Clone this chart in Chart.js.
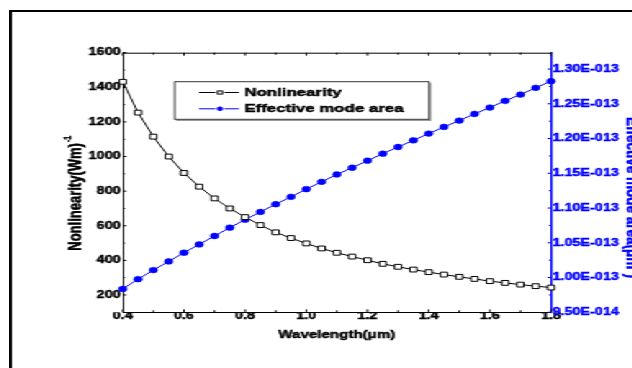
<!DOCTYPE html>
<html>
<head>
<meta charset="utf-8">
<title>Nonlinearity and effective mode area</title>
<script src="https://cdn.jsdelivr.net/npm/chart.js@4.4.1/dist/chart.umd.min.js"></script>
<style>
  html, body { margin: 0; padding: 0; background: #fff; overflow: hidden; width: 632px; height: 368px; }
  /* the original figure is stretched sideways, so the whole frame is too */
  #frame {
    position: absolute;
    left: 9px;
    top: 10px;
    width: 460px;
    height: 400px;
    border: 2px solid #000;
    background: #fff;
    transform: scaleX(1.44);
    transform-origin: 0 0;
  }
  #chart { display: block; }
</style>
</head>
<body>
<div id="frame"><canvas id="chart" width="460" height="400"></canvas></div>
<script>
// Data
const wavelength = [0.40, 0.45, 0.50, 0.55, 0.60, 0.65, 0.70, 0.75, 0.80, 0.85,
  0.90, 0.95, 1.00, 1.05, 1.10, 1.15, 1.20, 1.25, 1.30, 1.35,
  1.40, 1.45, 1.50, 1.55, 1.60, 1.65, 1.70, 1.75, 1.80];
const nonlinearity = [1432, 1254, 1115, 1000, 905, 826, 758, 700, 650, 604,
  562, 529, 498, 469, 444, 422, 401, 380, 363, 347,
  332, 318, 305, 293, 280, 270, 260, 251, 243];
const modeArea = [9.837e-14, 9.977e-14, 1.0107e-13, 1.0232e-13, 1.0357e-13, 1.0477e-13, 1.0598e-13, 1.0718e-13, 1.0833e-13, 1.0944e-13,
  1.1055e-13, 1.1161e-13, 1.1272e-13, 1.1377e-13, 1.1483e-13, 1.1580e-13, 1.1681e-13, 1.1782e-13, 1.1878e-13, 1.1974e-13,
  1.2071e-13, 1.2167e-13, 1.2258e-13, 1.2354e-13, 1.2446e-13, 1.2542e-13, 1.2633e-13, 1.2730e-13, 1.2826e-13];

// Tick values
const xTicks = [0.4, 0.6, 0.8, 1.0, 1.2, 1.4, 1.6, 1.8];
const leftTicks = [200, 400, 600, 800, 1000, 1200, 1400, 1600];
const rightTicks = [9.5e-14, 1.0e-13, 1.05e-13, 1.1e-13, 1.15e-13, 1.2e-13, 1.25e-13, 1.3e-13];

const FONT = "'Liberation Sans', Arial, sans-serif";
const BLUE = "#0000ff";
const TEXT_STROKE = 0.45; // the scanned original has heavy type
const TICK_SIZE = 10;

// Plot box inside the canvas (before the sideways stretch)
const plotLeft = 77;
const plotRight = 374.4;
const plotTop = 40.7;
const plotBottom = 300.3;
const canvasW = 460;
const canvasH = 400;

// 1.30E-013 style labels
function sciLabel(v) {
  const exp = Math.floor(Math.log10(v) + 1e-9);
  const mant = v / Math.pow(10, exp);
  return mant.toFixed(2) + "E-" + String(-exp).padStart(3, "0");
}

function midpoints(arr) {
  return arr.slice(1).map((v, i) => (v + arr[i]) / 2);
}

// fill + thin stroke so the type looks as heavy as the original
function heavyText(ctx, text, x, y, color) {
  ctx.fillStyle = color;
  ctx.strokeStyle = color;
  ctx.lineWidth = TEXT_STROKE;
  ctx.fillText(text, x, y);
  ctx.strokeText(text, x, y);
}

// Ticks, axis titles and legend box drawn on top of the chart
const decorPlugin = {
  id: "decor",
  afterDraw(chart) {
    const { ctx, chartArea: area, scales } = chart;
    const xs = scales.x;
    const yl = scales.y;
    const yr = scales.y1;
    ctx.save();

    // top frame line
    ctx.strokeStyle = "#000";
    ctx.lineWidth = 1;
    ctx.beginPath();
    ctx.moveTo(area.left, area.top + 0.5);
    ctx.lineTo(area.right, area.top + 0.5);
    ctx.stroke();

    // inward ticks
    ctx.beginPath();
    xTicks.forEach((v) => {
      const px = xs.getPixelForValue(v);
      ctx.moveTo(px, area.bottom); ctx.lineTo(px, area.bottom - 3);
      ctx.moveTo(px, area.top); ctx.lineTo(px, area.top + 3);
    });
    midpoints(xTicks).forEach((v) => {
      const px = xs.getPixelForValue(v);
      ctx.moveTo(px, area.bottom); ctx.lineTo(px, area.bottom - 2);
      ctx.moveTo(px, area.top); ctx.lineTo(px, area.top + 2);
    });
    leftTicks.forEach((v) => {
      const py = yl.getPixelForValue(v);
      ctx.moveTo(area.left, py); ctx.lineTo(area.left + 2.5, py);
    });
    midpoints(leftTicks).forEach((v) => {
      const py = yl.getPixelForValue(v);
      ctx.moveTo(area.left, py); ctx.lineTo(area.left + 1.5, py);
    });
    ctx.stroke();

    ctx.strokeStyle = BLUE;
    ctx.beginPath();
    rightTicks.forEach((v) => {
      const py = yr.getPixelForValue(v);
      ctx.moveTo(area.right, py); ctx.lineTo(area.right - 2.5, py);
    });
    midpoints(rightTicks).forEach((v) => {
      const py = yr.getPixelForValue(v);
      ctx.moveTo(area.right, py); ctx.lineTo(area.right - 1.5, py);
    });
    ctx.stroke();

    // x title
    ctx.textAlign = "center";
    ctx.textBaseline = "middle";
    ctx.font = `bold 10.5px ${FONT}`;
    heavyText(ctx, "Wavelength(μm)", (area.left + area.right) / 2, area.bottom + 23, "#000");

    // left title with superscript
    ctx.save();
    ctx.translate(42.9, 181.3);
    ctx.rotate(-Math.PI / 2);
    ctx.textAlign = "left";
    ctx.textBaseline = "alphabetic";
    ctx.font = `bold 13px ${FONT}`;
    const leftMain = "Nonlinearity(Wm)";
    const mainW = ctx.measureText(leftMain).width;
    ctx.font = `bold 7px ${FONT}`;
    const supW = ctx.measureText("-1").width;
    const start = -(mainW + supW + 1) / 2;
    ctx.font = `bold 13px ${FONT}`;
    heavyText(ctx, leftMain, start, 4.6, "#000");
    ctx.font = `bold 7px ${FONT}`;
    heavyText(ctx, "-1", start + mainW + 1, -2, "#000");
    ctx.restore();

    // right title, runs off the edge like the original
    ctx.save();
    ctx.translate(426.5, 105);
    ctx.rotate(Math.PI / 2);
    ctx.textAlign = "left";
    ctx.textBaseline = "alphabetic";
    ctx.font = `bold 13.5px ${FONT}`;
    const rightMain = "Effective mode area(μm";
    heavyText(ctx, rightMain, 0, 0, BLUE);
    let off = ctx.measureText(rightMain).width;
    ctx.font = `bold 8px ${FONT}`;
    heavyText(ctx, "2", off, -6, BLUE);
    off += ctx.measureText("2").width;
    ctx.font = `bold 13.5px ${FONT}`;
    heavyText(ctx, ")", off, 0, BLUE);
    ctx.restore();

    // legend box
    const bx = 113.1, by = 69.7, bw = 176.6, bh = 37.6;
    ctx.fillStyle = "#fff";
    ctx.fillRect(bx, by, bw, bh);
    ctx.strokeStyle = "#9a9a9a";
    ctx.lineWidth = 1.2;
    ctx.beginPath();
    ctx.moveTo(bx + 1, by + bh + 1);
    ctx.lineTo(bx + bw + 1, by + bh + 1);
    ctx.lineTo(bx + bw + 1, by + 1);
    ctx.stroke();
    ctx.strokeStyle = "#333";
    ctx.lineWidth = 1;
    ctx.strokeRect(bx, by, bw, bh);

    const rows = [80.5, 96.8];
    chart.data.datasets.forEach((ds, i) => {
      const ry = rows[i];
      ctx.strokeStyle = ds.borderColor;
      ctx.lineWidth = 1;
      ctx.beginPath();
      ctx.moveTo(129.9, ry); ctx.lineTo(141.5, ry);
      ctx.moveTo(147.5, ry); ctx.lineTo(157.7, ry);
      ctx.stroke();
      if (ds.pointStyle === "rect") {
        ctx.fillStyle = "#fff";
        ctx.fillRect(142.9, ry - 1.6, 3.2, 3.2);
        ctx.strokeRect(142.9, ry - 1.6, 3.2, 3.2);
      } else {
        ctx.fillStyle = ds.pointBackgroundColor;
        ctx.beginPath();
        ctx.arc(144.5, ry, 2.2, 0, Math.PI * 2);
        ctx.fill();
      }
      ctx.textAlign = "left";
      ctx.textBaseline = "middle";
      ctx.font = `bold 11.7px ${FONT}`;
      heavyText(ctx, ds.label, 161.5, ry, "#000");
    });

    ctx.restore();
  },
};

// Chart
Chart.defaults.font.family = FONT;
Chart.defaults.font.weight = "bold";
Chart.defaults.color = "#000";

const chartCtx = document.getElementById("chart").getContext("2d");
const chart = new Chart(chartCtx, {
  type: "line",
  data: {
    datasets: [
      {
        label: "Nonlinearity",
        data: wavelength.map((w, i) => ({ x: w, y: nonlinearity[i] })),
        yAxisID: "y",
        borderColor: "#000",
        borderWidth: 1,
        pointStyle: "rect",
        pointRadius: 3.4,
        pointBackgroundColor: "#fff",
        pointBorderColor: "#000",
        pointBorderWidth: 1,
        tension: 0,
        clip: false,
      },
      {
        label: "Effective mode area",
        data: wavelength.map((w, i) => ({ x: w, y: modeArea[i] })),
        yAxisID: "y1",
        borderColor: BLUE,
        borderWidth: 1,
        pointStyle: "circle",
        pointRadius: 2.9,
        pointBackgroundColor: BLUE,
        pointBorderColor: BLUE,
        pointBorderWidth: 0.5,
        tension: 0,
        clip: false,
      },
    ],
  },
  options: {
    responsive: false,
    animation: false,
    devicePixelRatio: 1,
    events: [],
    layout: { padding: { top: plotTop, left: 0, right: 0, bottom: 0 } },
    plugins: {
      legend: { display: false },
      tooltip: { enabled: false },
    },
    scales: {
      x: {
        type: "linear",
        position: "bottom",
        min: 0.4,
        max: 1.8,
        afterBuildTicks: (s) => { s.ticks = xTicks.map((v) => ({ value: v })); },
        afterFit: (s) => { s.height = canvasH - plotBottom; },
        grid: { display: false, drawTicks: false },
        border: { display: true, color: "#000", width: 1 },
        ticks: {
          autoSkip: false,
          maxRotation: 0,
          padding: -2,
          color: "#000",
          textStrokeColor: "#000",
          textStrokeWidth: TEXT_STROKE,
          font: { size: TICK_SIZE, weight: "bold" },
          callback: (v) => v.toFixed(1),
        },
      },
      y: {
        type: "linear",
        position: "left",
        min: 100,
        max: 1600,
        afterBuildTicks: (s) => { s.ticks = leftTicks.map((v) => ({ value: v })); },
        afterFit: (s) => { s.width = plotLeft; },
        grid: { display: false, drawTicks: false },
        border: { display: true, color: "#000", width: 1 },
        ticks: {
          autoSkip: false,
          padding: 1.5,
          color: "#000",
          textStrokeColor: "#000",
          textStrokeWidth: TEXT_STROKE,
          font: { size: TICK_SIZE, weight: "bold" },
          callback: (v) => String(v),
        },
      },
      y1: {
        type: "linear",
        position: "right",
        min: 9.5e-14,
        max: 1.3235e-13,
        afterBuildTicks: (s) => { s.ticks = rightTicks.map((v) => ({ value: v })); },
        afterFit: (s) => { s.width = canvasW - plotRight; },
        grid: { display: false, drawTicks: false },
        border: { display: true, color: BLUE, width: 1.4 },
        ticks: {
          autoSkip: false,
          padding: 1,
          color: BLUE,
          textStrokeColor: BLUE,
          textStrokeWidth: TEXT_STROKE,
          font: { size: TICK_SIZE, weight: "bold" },
          callback: (v) => sciLabel(v),
        },
      },
    },
  },
  plugins: [decorPlugin],
});
</script>
</body>
</html>
